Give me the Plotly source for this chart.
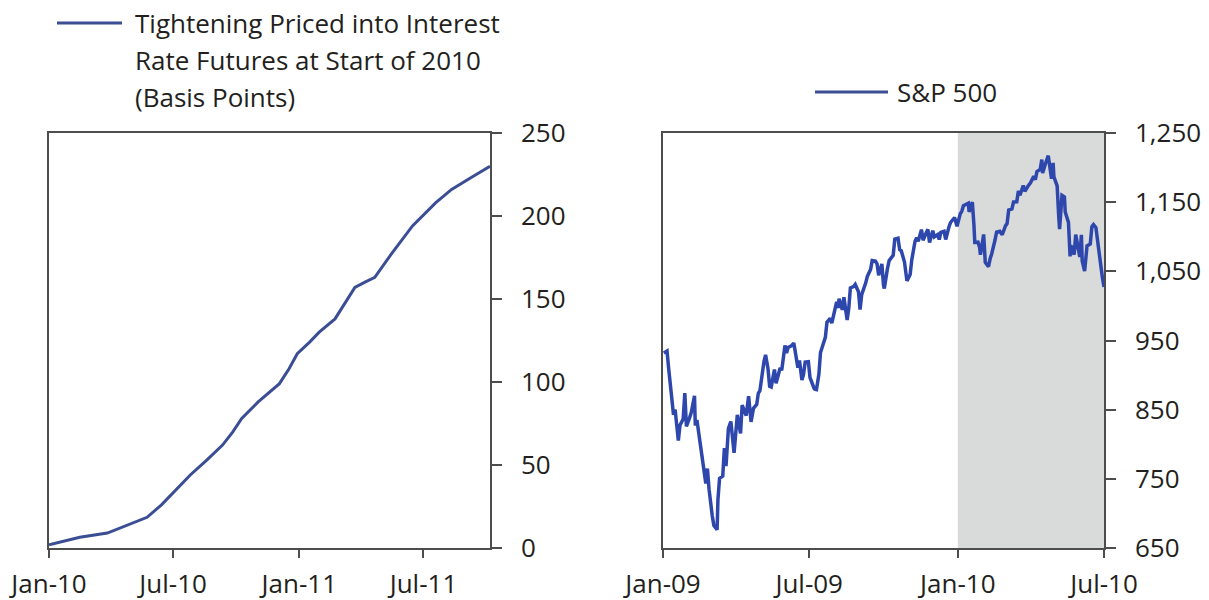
import plotly.graph_objects as go

# ============================================================
# Data
# ============================================================
# Left panel: tightening priced into rate futures (basis points)
TIGHT_DATES = [
    "2010-01-01", "2010-01-21", "2010-02-15", "2010-03-27", "2010-04-26",
    "2010-05-24", "2010-06-14", "2010-07-05", "2010-07-26", "2010-08-19",
    "2010-09-11", "2010-09-26", "2010-10-09", "2010-11-02", "2010-12-03",
    "2010-12-17", "2010-12-29", "2011-01-16", "2011-01-30", "2011-02-22",
    "2011-03-09", "2011-03-23", "2011-04-06", "2011-04-21", "2011-05-15",
    "2011-06-15", "2011-07-19", "2011-08-11", "2011-09-08", "2011-10-06",
]
TIGHT_BP = [
    2, 4, 6.5, 9, 14,
    18.5, 26, 35, 44, 53,
    62, 70, 78, 88, 99,
    108, 117, 124, 130, 138,
    148, 157, 160, 163, 177,
    194, 208, 216, 223, 230,
]

# Right panel: S&P 500
SPX_DATES = [
    "2009-01-02", "2009-01-06", "2009-01-08", "2009-01-12", "2009-01-14", "2009-01-16",
    "2009-01-20", "2009-01-22", "2009-01-26", "2009-01-28", "2009-01-30", "2009-02-03",
    "2009-02-05", "2009-02-09", "2009-02-10", "2009-02-12", "2009-02-17", "2009-02-19",
    "2009-02-23", "2009-02-25", "2009-02-27", "2009-03-03", "2009-03-05", "2009-03-09",
    "2009-03-10", "2009-03-12", "2009-03-16", "2009-03-18", "2009-03-20", "2009-03-23",
    "2009-03-26", "2009-03-30", "2009-04-01", "2009-04-03", "2009-04-07", "2009-04-09",
    "2009-04-14", "2009-04-17", "2009-04-20", "2009-04-23", "2009-04-27", "2009-04-29",
    "2009-05-01", "2009-05-04", "2009-05-06", "2009-05-08", "2009-05-11", "2009-05-13",
    "2009-05-15", "2009-05-19", "2009-05-21", "2009-05-26", "2009-05-28", "2009-06-01",
    "2009-06-03", "2009-06-05", "2009-06-09", "2009-06-12", "2009-06-15", "2009-06-17",
    "2009-06-19", "2009-06-22", "2009-06-24", "2009-06-26", "2009-06-30", "2009-07-02",
    "2009-07-07", "2009-07-08", "2009-07-10", "2009-07-13", "2009-07-15", "2009-07-17",
    "2009-07-21", "2009-07-23", "2009-07-27", "2009-07-29", "2009-07-31", "2009-08-04",
    "2009-08-06", "2009-08-07", "2009-08-11", "2009-08-13", "2009-08-17", "2009-08-19",
    "2009-08-21", "2009-08-25", "2009-08-27", "2009-08-31", "2009-09-02", "2009-09-04",
    "2009-09-09", "2009-09-11", "2009-09-15", "2009-09-17", "2009-09-21", "2009-09-23",
    "2009-09-25", "2009-09-29", "2009-10-01", "2009-10-02", "2009-10-06", "2009-10-08",
    "2009-10-13", "2009-10-15", "2009-10-19", "2009-10-21", "2009-10-23", "2009-10-27",
    "2009-10-30", "2009-11-03", "2009-11-05", "2009-11-09", "2009-11-11", "2009-11-13",
    "2009-11-17", "2009-11-19", "2009-11-23", "2009-11-25", "2009-11-27", "2009-12-01",
    "2009-12-03", "2009-12-07", "2009-12-09", "2009-12-11", "2009-12-15", "2009-12-17",
    "2009-12-21", "2009-12-23", "2009-12-28", "2009-12-31", "2010-01-04", "2010-01-06",
    "2010-01-08", "2010-01-11", "2010-01-14", "2010-01-15", "2010-01-19", "2010-01-21",
    "2010-01-22", "2010-01-26", "2010-01-28", "2010-01-29", "2010-02-02", "2010-02-04",
    "2010-02-08", "2010-02-10", "2010-02-12", "2010-02-16", "2010-02-18", "2010-02-22",
    "2010-02-25", "2010-03-01", "2010-03-03", "2010-03-05", "2010-03-09", "2010-03-11",
    "2010-03-15", "2010-03-17", "2010-03-19", "2010-03-23", "2010-03-25", "2010-03-29",
    "2010-04-01", "2010-04-05", "2010-04-07", "2010-04-09", "2010-04-13", "2010-04-15",
    "2010-04-16", "2010-04-20", "2010-04-23", "2010-04-27", "2010-04-29", "2010-04-30",
    "2010-05-04", "2010-05-06", "2010-05-07", "2010-05-10", "2010-05-13", "2010-05-14",
    "2010-05-18", "2010-05-20", "2010-05-21", "2010-05-25", "2010-05-27", "2010-06-01",
    "2010-06-03", "2010-06-04", "2010-06-07", "2010-06-10", "2010-06-14", "2010-06-16",
    "2010-06-18", "2010-06-21", "2010-06-23", "2010-06-25", "2010-06-29", "2010-07-01",
]
SPX_CLOSE = [
    931.8, 934.7, 909.7, 870.3, 842.6, 850.1,
    805.2, 827.5, 836.6, 874.1, 825.9, 838.5,
    845.9, 869.9, 827.2, 835.2, 789.2, 778.9,
    743.3, 764.9, 735.1, 696.3, 682.6, 676.5,
    719.6, 750.7, 753.9, 794.4, 768.5, 822.9,
    832.9, 787.5, 811.1, 842.5, 815.6, 856.6,
    841.5, 869.6, 832.4, 851.9, 857.5, 873.6,
    877.5, 907.2, 919.5, 929.2, 909.2, 883.9,
    882.9, 908.1, 888.3, 910.3, 906.8, 942.9,
    931.8, 940.1, 942.4, 946.2, 923.7, 910.7,
    921.2, 893.0, 900.9, 918.9, 919.3, 896.4,
    881.0, 879.6, 879.1, 901.1, 932.7, 940.4,
    954.6, 976.3, 982.2, 975.2, 987.5, 1005.7,
    997.1, 1010.5, 994.4, 1012.7, 979.7, 996.5,
    1026.1, 1028.0, 1031.0, 1020.6, 994.8, 1016.4,
    1033.4, 1042.7, 1052.6, 1065.5, 1064.7, 1060.9,
    1044.4, 1060.6, 1029.9, 1025.2, 1054.7, 1065.5,
    1073.2, 1096.6, 1097.9, 1081.4, 1079.6, 1063.4,
    1036.2, 1045.4, 1066.6, 1093.1, 1098.5, 1093.5,
    1110.3, 1094.9, 1106.2, 1110.6, 1091.5, 1108.9,
    1099.9, 1103.3, 1096.0, 1106.4, 1107.9, 1096.1,
    1114.1, 1120.6, 1127.8, 1115.1, 1133.0, 1137.1,
    1145.0, 1147.0, 1148.5, 1136.0, 1150.2, 1116.5,
    1091.8, 1092.2, 1084.5, 1073.9, 1103.3, 1063.1,
    1056.7, 1068.1, 1075.5, 1094.9, 1106.8, 1108.0,
    1102.9, 1115.7, 1119.0, 1138.7, 1140.4, 1150.2,
    1150.5, 1166.2, 1159.9, 1174.2, 1165.7, 1173.3,
    1178.1, 1187.4, 1182.5, 1194.4, 1197.3, 1211.7,
    1192.1, 1207.2, 1217.3, 1183.7, 1206.8, 1186.7,
    1173.6, 1128.2, 1110.9, 1159.7, 1157.4, 1135.7,
    1120.8, 1071.6, 1087.7, 1074.0, 1103.1, 1070.7,
    1102.8, 1064.9, 1050.5, 1086.8, 1089.6, 1114.6,
    1117.5, 1113.2, 1092.0, 1076.8, 1041.2, 1027.4,
]

SHADE_PERIOD = ["2010-01-01", "2010-07-01"]

LEFT_XTICKS = ["2010-01-01", "2010-07-01", "2011-01-01", "2011-07-01"]
LEFT_XLABELS = ["Jan-10", "Jul-10", "Jan-11", "Jul-11"]
LEFT_XRANGE = ["2010-01-01", "2011-10-06"]
LEFT_YTICKS = [0, 50, 100, 150, 200, 250]

RIGHT_XTICKS = ["2009-01-01", "2009-07-01", "2010-01-01", "2010-07-01"]
RIGHT_XLABELS = ["Jan-09", "Jul-09", "Jan-10", "Jul-10"]
RIGHT_XRANGE = ["2009-01-01", "2010-07-01"]
RIGHT_YTICKS = [650, 750, 850, 950, 1050, 1150, 1250]

LEGEND_LEFT = ["Tightening Priced into Interest", "Rate Futures at Start of 2010", "(Basis Points)"]
LEGEND_RIGHT = "S&P 500"

# ============================================================
# Style / geometry (pixels in a 1209x600 canvas)
# ============================================================
W, H = 1209, 600
FONT = "Open Sans"
TEXT_COLOR = "#231f20"
AXIS_COLOR = "#4d4d4d"
LEFT_COLOR = "#3b4e94"
RIGHT_COLOR = "#2e47ad"
SHADE_COLOR = "#d9dada"


def px(x):
    return x / W


def py(y):
    return 1 - y / H


fig = go.Figure()
fig.add_trace(
    go.Scatter(
        x=TIGHT_DATES, y=TIGHT_BP, mode="lines",
        line=dict(color=LEFT_COLOR, width=3), xaxis="x", yaxis="y",
        showlegend=False, hoverinfo="skip",
    )
)
fig.add_trace(
    go.Scatter(
        x=SPX_DATES, y=SPX_CLOSE, mode="lines",
        line=dict(color=RIGHT_COLOR, width=3.5), xaxis="x2", yaxis="y2",
        showlegend=False, hoverinfo="skip",
    )
)

axis_common = dict(
    showgrid=False, zeroline=False, showline=True, linecolor=AXIS_COLOR,
    linewidth=1.5, mirror=True, ticks="outside", tickcolor=AXIS_COLOR,
    tickwidth=1.5, tickfont=dict(family=FONT, size=26, color=TEXT_COLOR),
    automargin=False,
)

fig.update_layout(
    width=W, height=H,
    margin=dict(l=0, r=0, t=0, b=0),
    paper_bgcolor="white", plot_bgcolor="white",
    xaxis=dict(
        **axis_common, domain=[px(49), px(490)], type="date",
        range=LEFT_XRANGE, tickvals=LEFT_XTICKS, ticktext=LEFT_XLABELS,
        ticklen=8, anchor="y", ticklabelstandoff=4,
    ),
    yaxis=dict(
        **axis_common, domain=[py(548), py(133)], range=[0, 250],
        tickvals=LEFT_YTICKS, side="right", ticklen=10, anchor="x",
        ticklabelstandoff=14,
    ),
    xaxis2=dict(
        **axis_common, domain=[px(663), px(1104)], type="date",
        range=RIGHT_XRANGE, tickvals=RIGHT_XTICKS, ticktext=RIGHT_XLABELS,
        ticklen=8, anchor="y2", ticklabelstandoff=4,
    ),
    yaxis2=dict(
        **axis_common, domain=[py(548), py(133)], range=[650, 1250],
        tickvals=RIGHT_YTICKS, tickformat=",", side="right", ticklen=10,
        anchor="x2", ticklabelstandoff=14,
    ),
)

# Shaded period on the S&P panel
fig.add_shape(
    type="rect", xref="x2", yref="y2 domain",
    x0=SHADE_PERIOD[0], x1=SHADE_PERIOD[1], y0=0, y1=1,
    fillcolor=SHADE_COLOR, line=dict(width=0), layer="below",
)

# Legend keys drawn by hand
fig.add_shape(
    type="line", xref="paper", yref="paper",
    x0=px(57), x1=px(122), y0=py(23), y1=py(23),
    line=dict(color=LEFT_COLOR, width=3),
)
for i, txt in enumerate(LEGEND_LEFT):
    fig.add_annotation(
        text=txt, xref="paper", yref="paper", x=px(133), y=py(23 + 37 * i),
        xanchor="left", yanchor="middle", showarrow=False,
        font=dict(family=FONT, size=26, color=TEXT_COLOR),
    )

fig.add_shape(
    type="line", xref="paper", yref="paper",
    x0=px(815), x1=px(888), y0=py(92), y1=py(92),
    line=dict(color=LEFT_COLOR, width=3),
)
fig.add_annotation(
    text=LEGEND_RIGHT, xref="paper", yref="paper", x=px(895), y=py(92),
    xanchor="left", yanchor="middle", showarrow=False,
    font=dict(family=FONT, size=26, color=TEXT_COLOR),
)

# page body has a default margin; drop it so the figure fills the window
fig.write_html(
    "out.html",
    config={"displayModeBar": False},
    post_script="document.body.style.margin='0';",
)
